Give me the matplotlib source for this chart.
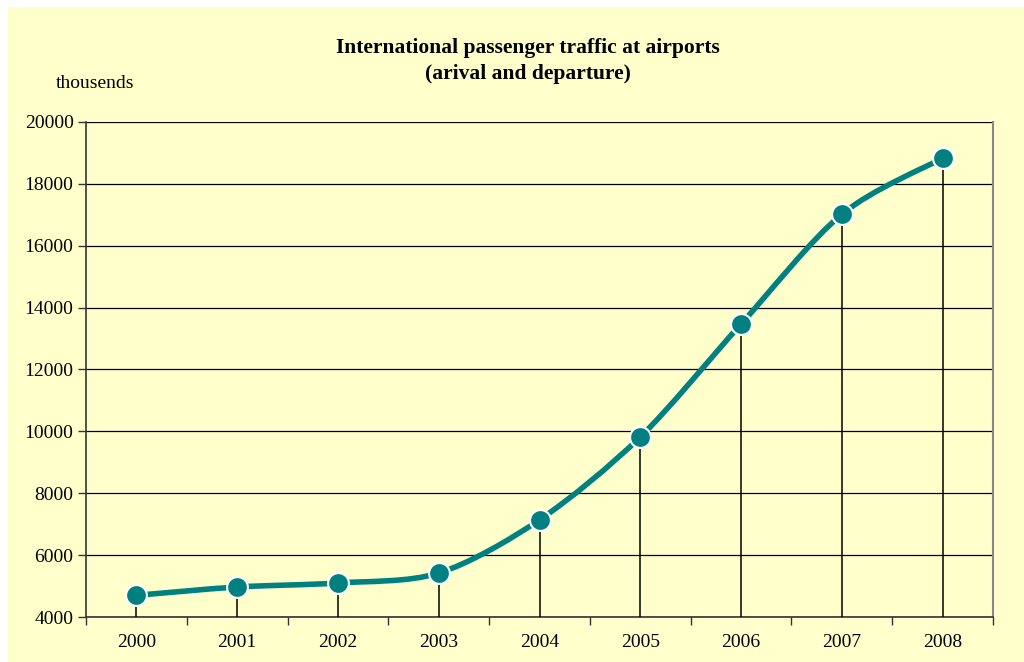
import numpy as np
import matplotlib
matplotlib.use("Agg")
import matplotlib.pyplot as plt
from matplotlib.path import Path
from matplotlib.patches import PathPatch, Rectangle

years = ["2000", "2001", "2002", "2003", "2004", "2005", "2006", "2007", "2008"]
passengers = [4700, 4970, 5100, 5420, 7140, 9820, 13470, 17020, 18830]
y_ticks = [4000, 6000, 8000, 10000, 12000, 14000, 16000, 18000, 20000]

title = "International passenger traffic at airports\n(arival and departure)"
unit_label = "thousends"

BG = "#FFFFCC"
TEAL = "#008080"

plt.rcParams['font.family'] = ['Liberation Serif', 'DejaVu Serif']

fig = plt.figure(figsize=(10.24, 6.62), dpi=100)
fig.patch.set_facecolor("white")
fig.patches.append(Rectangle((8/1024, 0), 1 - 8/1024, 1 - 7/662, transform=fig.transFigure,
                             facecolor=BG, edgecolor="none", zorder=-10))

L, R, T, B = 86, 993, 122, 617
ax = fig.add_axes([L/1024, 1 - B/662, (R-L)/1024, (B-T)/662])
ax.set_facecolor(BG)

x = np.arange(len(years))
y = np.array(passengers, dtype=float)

# smoothed line (Catmull-Rom style bezier, like spreadsheet smoothing)
k = 0.15
verts = [(x[0], y[0])]
codes = [Path.MOVETO]
n = len(x)
for i in range(n - 1):
    p0 = np.array([x[max(i-1, 0)], y[max(i-1, 0)]])
    p1 = np.array([x[i], y[i]])
    p2 = np.array([x[i+1], y[i+1]])
    p3 = np.array([x[min(i+2, n-1)], y[min(i+2, n-1)]])
    c1 = p1 + (p2 - p0) * k
    c2 = p2 - (p3 - p1) * k
    verts += [tuple(c1), tuple(c2), tuple(p2)]
    codes += [Path.CURVE4] * 3
ax.add_patch(PathPatch(Path(verts, codes), facecolor="none", edgecolor=TEAL,
                       lw=4.0, zorder=4, capstyle="round", joinstyle="round"))

# drop lines
ax.vlines(x, 4000, y, color="black", lw=1.1, zorder=3)
ax.plot(x, y, linestyle="none", marker="o", markersize=15, markerfacecolor=TEAL,
        markeredgecolor="white", markeredgewidth=1.5, zorder=5)

ax.set_xlim(-0.5, n - 0.5)
ax.set_ylim(4000, 20000)
ax.set_yticks(y_ticks)
ax.set_yticklabels([str(v) for v in y_ticks], fontsize=14)
ax.yaxis.grid(True, color="black", lw=0.9)
ax.set_axisbelow(True)

ax.set_xticks(np.arange(-0.5, n, 1.0))
ax.set_xticklabels([])
ax.set_xticks(x, minor=True)
ax.set_xticklabels(years, minor=True, fontsize=14)
ax.tick_params(axis="x", which="minor", length=0, pad=12)
ax.tick_params(axis="x", which="major", length=6, width=1, color="#333333", direction="out")
ax.tick_params(axis="y", length=6, width=1, color="#333333", direction="out", pad=3)

for s in ["left", "bottom"]:
    ax.spines[s].set_color("#333333")
    ax.spines[s].set_linewidth(1.2)
ax.spines["top"].set_visible(False)
ax.spines["right"].set_color("#888888")
ax.spines["right"].set_linewidth(1.5)

fig.text(528/1024, 1 - 61/662, title, ha="center", va="center", fontsize=15.5,
         fontweight="bold", linespacing=1.4)
fig.text(56/1024, 1 - 83/662, unit_label, ha="left", va="center", fontsize=14)

fig.savefig("out.png", dpi=100, facecolor=fig.get_facecolor())
